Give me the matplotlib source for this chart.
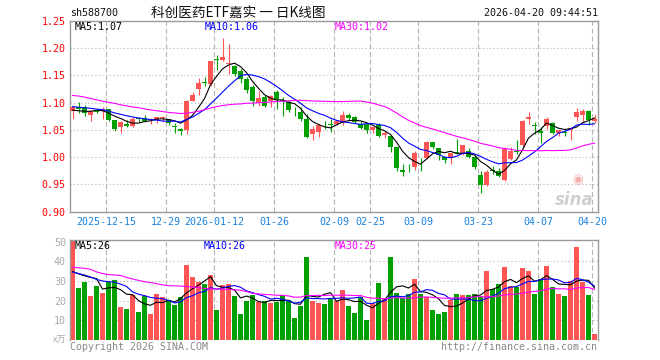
import numpy as np
import pandas as pd
import matplotlib
matplotlib.use("Agg")
import matplotlib.pyplot as plt

# ---------------- data ----------------
opens = [1.0846, 1.0913, 1.0913, 1.0774, 1.0850, 1.0846, 1.0880, 1.0680, 1.0559, 1.0608,
         1.0570, 1.0710, 1.0710, 1.0680, 1.0680, 1.0710, 1.0700, 1.0575, 1.0523, 1.0498,
         1.1030, 1.1255, 1.1375, 1.1340, 1.1790, 1.1780, 1.1710, 1.1670, 1.1580, 1.1440,
         1.1280, 1.1001, 1.1100, 1.1020, 1.1190, 1.1040, 1.1010, 1.0830, 1.0830, 1.0706,
         1.0425, 1.0456, 1.0610, 1.0610, 1.0610, 1.0620, 1.0773, 1.0740, 1.0600, 1.0600,
         1.0500, 1.0590, 1.0410, 1.0380, 1.0180, 0.9770, 0.9820, 0.9810, 0.9950, 0.9980,
         1.0280, 1.0160, 1.0010, 0.9980, 1.0090, 1.0070, 1.0110, 1.0010, 0.9674, 0.9490,
         0.9770, 0.9750, 0.9580, 0.9970, 1.0110, 1.0220, 1.0690, 1.0580, 1.0480, 1.0570,
         1.0620, 1.0450, 1.0460, 1.0490, 1.0730, 1.0780, 1.0850, 1.0670]
highs = [1.0935, 1.1010, 1.0956, 1.0850, 1.0880, 1.0910, 1.0885, 1.0685, 1.0660, 1.0680,
         1.0740, 1.0740, 1.0770, 1.0720, 1.0740, 1.0760, 1.0705, 1.0630, 1.0535, 1.1040,
         1.1190, 1.1445, 1.1460, 1.1770, 1.1880, 1.2190, 1.2070, 1.1680, 1.1610, 1.1470,
         1.1320, 1.1210, 1.1130, 1.1130, 1.1230, 1.1100, 1.1050, 1.0925, 1.0920, 1.0785,
         1.0570, 1.0602, 1.0670, 1.0690, 1.0680, 1.0850, 1.0800, 1.0750, 1.0670, 1.0600,
         1.0560, 1.0620, 1.0470, 1.0380, 1.0180, 0.9880, 0.9880, 1.0110, 0.9990, 1.0297,
         1.0280, 1.0160, 1.0010, 1.0080, 1.0330, 1.0230, 1.0160, 1.0040, 0.9750, 0.9770,
         0.9840, 0.9800, 1.0190, 1.0180, 1.0320, 1.0680, 1.0830, 1.0650, 1.0560, 1.0730,
         1.0640, 1.0500, 1.0500, 1.0540, 1.0900, 1.0880, 1.0860, 1.0770]
lows = [1.0700, 1.0817, 1.0760, 1.0670, 1.0800, 1.0694, 1.0660, 1.0486, 1.0450, 1.0550,
        1.0560, 1.0640, 1.0650, 1.0610, 1.0620, 1.0650, 1.0590, 1.0450, 1.0410, 1.0420,
        1.1020, 1.1140, 1.1310, 1.1310, 1.1600, 1.1770, 1.1530, 1.1480, 1.1350, 1.1180,
        1.0940, 1.0930, 1.0910, 1.0910, 1.0890, 1.0750, 1.0820, 1.0755, 1.0670, 1.0346,
        1.0315, 1.0370, 1.0520, 1.0455, 1.0580, 1.0590, 1.0680, 1.0620, 1.0510, 1.0440,
        1.0440, 1.0360, 1.0350, 1.0100, 0.9750, 0.9660, 0.9720, 0.9770, 0.9750, 0.9960,
        1.0140, 0.9950, 0.9900, 0.9870, 1.0060, 1.0040, 0.9980, 0.9780, 0.9340, 0.9470,
        0.9700, 0.9630, 0.9570, 0.9950, 1.0060, 1.0160, 1.0610, 1.0420, 1.0250, 1.0510,
        1.0420, 1.0380, 1.0380, 1.0310, 1.0660, 1.0670, 1.0590, 1.0620]
closes = [1.0926, 1.0889, 1.0804, 1.0847, 1.0830, 1.0883, 1.0680, 1.0516, 1.0639, 1.0570,
          1.0706, 1.0690, 1.0660, 1.0700, 1.0730, 1.0730, 1.0620, 1.0555, 1.0474, 1.1030,
          1.1140, 1.1365, 1.1355, 1.1760, 1.1780, 1.1830, 1.1720, 1.1520, 1.1440, 1.1230,
          1.1030, 1.1080, 1.0940, 1.1120, 1.1070, 1.1030, 1.0860, 1.0820, 1.0690, 1.0376,
          1.0517, 1.0590, 1.0600, 1.0596, 1.0660, 1.0770, 1.0712, 1.0650, 1.0530, 1.0500,
          1.0550, 1.0394, 1.0440, 1.0190, 0.9800, 0.9720, 0.9810, 1.0080, 0.9940, 1.0280,
          1.0190, 1.0040, 0.9950, 1.0080, 1.0070, 1.0220, 1.0010, 0.9810, 0.9490, 0.9730,
          0.9750, 0.9660, 1.0140, 1.0110, 1.0090, 1.0670, 1.0740, 1.0570, 1.0450, 1.0690,
          1.0450, 1.0490, 1.0450, 1.0530, 1.0830, 1.0850, 1.0680, 1.0694]
volumes = [50.4, 26.4, 29.4, 22.3, 27.4, 23.9, 29.4, 30.5, 16.8, 15.7,
           22.8, 14.2, 22.3, 13.2, 23.4, 21.8, 20.3, 17.8, 21.8, 38.2,
           32.0, 29.4, 28.4, 33.0, 15.2, 27.9, 28.4, 22.3, 13.2, 19.8,
           23.0, 19.3, 19.9, 18.8, 19.3, 22.7, 20.3, 11.2, 17.3, 42.1,
           19.8, 18.8, 18.3, 21.3, 20.0, 25.4, 17.3, 13.7, 21.8, 10.2,
           18.8, 28.9, 21.3, 42.1, 23.9, 21.3, 23.4, 31.0, 23.4, 21.8,
           15.2, 13.2, 14.2, 20.3, 23.4, 22.8, 22.8, 23.4, 21.8, 35.0,
           25.9, 28.4, 37.1, 27.4, 26.9, 36.5, 35.0, 23.4, 31.0, 37.6,
           26.9, 23.4, 22.3, 29.9, 47.2, 29.4, 22.8, 3.0]

# moving-average values before enough history is visible
price_ma5_head = [1.086, 1.085, 1.084, 1.084]
price_ma10_head = [1.0925, 1.0915, 1.0905, 1.0895, 1.0880, 1.0870, 1.0845, 1.0810, 1.0785]
price_ma30_head = [1.1130, 1.1120, 1.1100, 1.1075, 1.1050, 1.1025, 1.1005, 1.0985, 1.0960, 1.0940,
                   1.0920, 1.0905, 1.0885, 1.0865, 1.0850, 1.0835, 1.0820, 1.0810, 1.0800, 1.0805,
                   1.0820, 1.0840, 1.0870, 1.0900, 1.0925, 1.0945, 1.0960, 1.0970, 1.0975]
vol_ma5_head = [34.8, 33.6, 32.6, 31.8]
vol_ma10_head = [34.5, 33.8, 33.0, 32.0, 30.8, 30.0, 29.6, 29.4, 28.4]
vol_ma30_head = [36.9, 36.7, 36.4, 35.9, 34.6, 33.8, 33.2, 33.0, 32.8, 31.8,
                 31.0, 30.3, 29.6, 29.2, 28.6, 28.0, 27.6, 27.5, 27.4, 27.2,
                 26.9, 26.6, 26.2, 25.9, 25.9, 25.8, 25.7, 25.5, 25.3]

date_tick_index = [6, 16, 24, 34, 44, 50, 58, 68, 78, 87]
date_tick_labels = ["2025-12-15", "12-29", "2026-01-12", "01-26", "02-09",
                    "02-25", "03-09", "03-23", "04-07", "04-20"]
price_ticks = [0.90, 0.95, 1.00, 1.05, 1.10, 1.15, 1.20, 1.25]
volume_ticks = [10, 20, 30, 40, 50]

title_text = "科创医药ETF嘉实 一 日K线图"
code_text = "sh588700"
time_text = "2026-04-20 09:44:51"
price_ma_labels = ["MA5:1.07", "MA10:1.06", "MA30:1.02"]
volume_ma_labels = ["MA5:26", "MA10:26", "MA30:25"]
volume_unit = "x万"
footer_left = "Copyright 2026 SINA.COM"
footer_right = "http://finance.sina.com.cn"

# ---------------- helpers ----------------
def moving_average(values, window, head):
    s = pd.Series(values, dtype=float).rolling(window).mean().to_numpy()
    s[:len(head)] = head
    return s

RED = "#ff5555"
GREEN = "#00a000"
GRID = "#b4b4b4"
BORDER = "#9a9a9a"
MONO = "DejaVu Sans Mono"
FS = 7.2

o = np.array(opens); h = np.array(highs); l = np.array(lows); c = np.array(closes)
v = np.array(volumes)
x = np.arange(len(c))
up = c >= o
colors = np.where(up, RED, GREEN)

W, H = 660, 360
fig = plt.figure(figsize=(6.6, 3.6), dpi=100)

def px_rect(left, top, right, bottom):
    return [left / W, 1 - bottom / H, (right - left) / W, (bottom - top) / H]

axp = fig.add_axes(px_rect(70, 20.7, 598, 211.7))
axv = fig.add_axes(px_rect(70, 240, 598, 340))

xlim = (-0.42, len(c) - 0.42)
vline_pos = [i - 0.38 for i in date_tick_index]

# ---------- price panel ----------
axp.set_xlim(*xlim)
axp.set_ylim(0.90, 1.25)
for yv in price_ticks[1:-1]:
    axp.axhline(yv, color=GRID, lw=0.8, dashes=(1, 2.2), zorder=0)
for xv in vline_pos:
    axp.axvline(xv, color=GRID, lw=0.8, dashes=(4.5, 2.5), zorder=0)

body_bottom = np.minimum(o, c)
body_h = np.maximum(np.abs(c - o), 0.0016)
axp.vlines(x, l, h, colors=colors, lw=0.8, zorder=2)
axp.bar(x, body_h, bottom=body_bottom, width=0.8, color=colors, lw=0, zorder=3)

axp.plot(x, moving_average(c, 5, price_ma5_head), color="black", lw=0.8, zorder=4)
axp.plot(x, moving_average(c, 10, price_ma10_head), color="#0000ff", lw=0.8, zorder=4)
axp.plot(x, moving_average(c, 30, price_ma30_head), color="#ff00ff", lw=0.8, zorder=4)

axp.set_yticks(price_ticks)
axp.set_yticklabels([f"{t:.2f}" for t in price_ticks], fontfamily=MONO, fontsize=FS, color="#ff0000")
axp.set_xticks(vline_pos)
axp.set_xticklabels(date_tick_labels, fontfamily=MONO, fontsize=FS, color="#1a82e0")
axp.tick_params(axis="both", length=0)
axp.tick_params(axis="y", pad=3)
axp.tick_params(axis="x", pad=4)
for sp in axp.spines.values():
    sp.set_color(BORDER); sp.set_linewidth(1.0)

# sina watermark
axp.text(0.955, 0.06, "sina", transform=axp.transAxes, fontsize=12, fontweight="bold",
         style="italic", color="#cfcfcf", ha="center", va="center", zorder=1)
axp.text(0.962, 0.17, "◉", transform=axp.transAxes, fontsize=9, color="#f3b0b0",
         ha="center", va="center", zorder=1)

# ---------- volume panel ----------
axv.set_xlim(*xlim)
axv.set_ylim(0, 50.8)
for yv in volume_ticks[:-1]:
    axv.axhline(yv, color=GRID, lw=0.8, dashes=(1, 2.2), zorder=0)
for xv in vline_pos:
    axv.axvline(xv, color=GRID, lw=0.8, dashes=(4.5, 2.5), zorder=0)
axv.bar(x, v, width=0.8, color=colors, lw=0, zorder=2)
axv.plot(x, moving_average(v, 5, vol_ma5_head), color="black", lw=0.8, zorder=4)
axv.plot(x, moving_average(v, 10, vol_ma10_head), color="#0000ff", lw=0.8, zorder=4)
axv.plot(x, moving_average(v, 30, vol_ma30_head), color="#ff00ff", lw=0.8, zorder=4)
axv.set_yticks(volume_ticks)
axv.set_yticklabels([str(t) for t in volume_ticks], fontfamily=MONO, fontsize=FS, color="#aaaaaa")
axv.set_xticks([])
axv.tick_params(axis="both", length=0)
axv.tick_params(axis="y", pad=3)
for name, sp in axv.spines.items():
    sp.set_color(BORDER); sp.set_linewidth(1.0)
axv.spines["bottom"].set_visible(False)

# ---------- texts ----------
def ftext(px, py, s, **kw):
    fig.text(px / W, 1 - py / H, s, **kw)

ftext(70, 13.3, code_text, fontfamily=MONO, fontsize=FS, color="#111111", va="center", ha="left")
ftext(151, 13.3, title_text, fontfamily=["Noto Sans CJK SC", "DejaVu Sans"], fontsize=9.8,
      color="#111111", va="center", ha="left")
ftext(598, 13.3, time_text, fontfamily=MONO, fontsize=FS, color="#111111", va="center", ha="right")

pcolors = ["black", "#0000ff", "#ff00ff"]
for xx, s, col in zip([75, 205, 335], price_ma_labels, pcolors):
    ftext(xx, 26.8, s, fontfamily=MONO, fontsize=FS, color=col, va="center", ha="left")
for xx, s, col in zip([75, 204, 334.5], volume_ma_labels, pcolors):
    ftext(xx, 246.3, s, fontfamily=MONO, fontsize=FS, color=col, va="center", ha="left")

ftext(66, 340, volume_unit, fontfamily=["Noto Sans CJK SC", "DejaVu Sans"], fontsize=6.5,
      color="#aaaaaa", va="center", ha="right")
ftext(70, 346.5, footer_left, fontfamily=MONO, fontsize=FS, color="#888888", va="center", ha="left")
ftext(597, 346.5, footer_right, fontfamily=MONO, fontsize=FS, color="#888888", va="center", ha="right")

fig.savefig("out.png", dpi=100, facecolor="white")
